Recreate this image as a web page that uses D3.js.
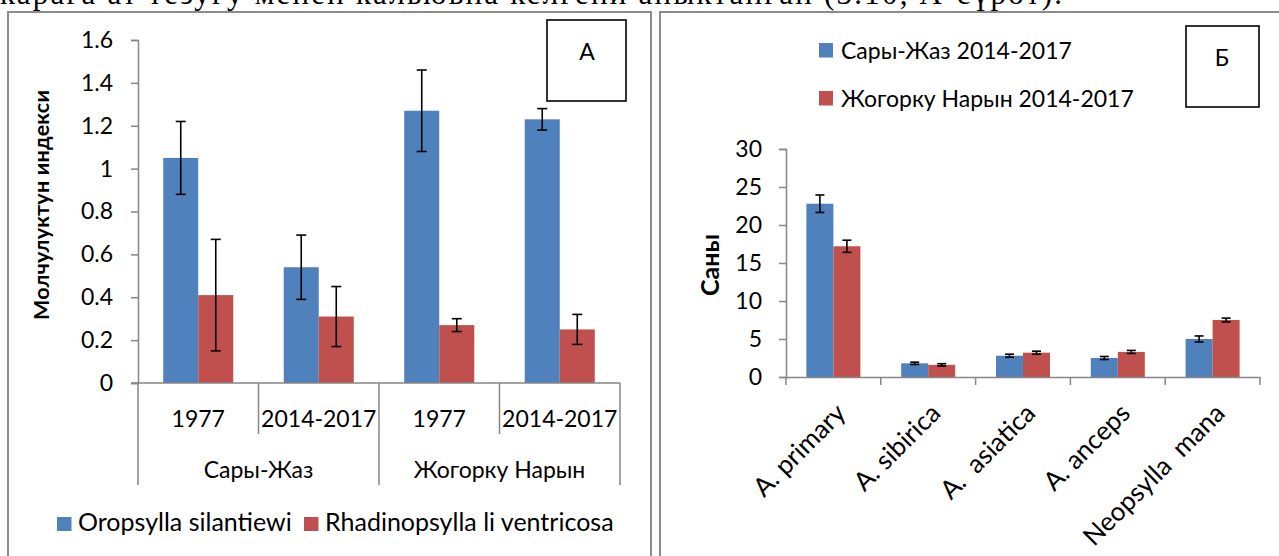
<!DOCTYPE html>
<html>
<head>
<meta charset="utf-8">
<script src="https://cdn.jsdelivr.net/npm/d3@7"></script>
<style>
  body { margin: 0; background: #fff; }
  svg { display: block; }
  text { font-family: Lato, "Open Sans", sans-serif; fill: #000; }
</style>
</head>
<body>
<svg id="chart" width="1279" height="556"></svg>
<script>
// panel A data
var periodsA = ["1977", "2014-2017", "1977", "2014-2017"];
var regionsA = ["Сары-Жаз", "Жогорку Нарын"];
var seriesA = ["Oropsylla silantiewi", "Rhadinopsylla li ventricosa"];
var oropsylla = [1.05, 0.54, 1.27, 1.23];
var oropsyllaErr = [0.17, 0.15, 0.19, 0.05];
var rhadino = [0.41, 0.31, 0.27, 0.25];
var rhadinoErr = [0.26, 0.14, 0.03, 0.07];
var ticksA = [0, 0.2, 0.4, 0.6, 0.8, 1, 1.2, 1.4, 1.6];

// panel Б data
var speciesB = ["A. primary", "A. sibirica", "A.  asiatica", "A. anceps", "Neopsylla  mana"];
var seriesB = ["Сары-Жаз 2014-2017", "Жогорку Нарын 2014-2017"];
var saryJaz = [22.8, 1.8, 2.8, 2.5, 5.0];
var saryJazErr = [1.15, 0.15, 0.2, 0.2, 0.4];
var naryn = [17.2, 1.6, 3.2, 3.3, 7.5];
var narynErr = [0.8, 0.15, 0.2, 0.2, 0.25];
var ticksB = [0, 5, 10, 15, 20, 25, 30];

var colors = ["#4F81BD", "#C0504D"];
var axisColor = "#868686";

var svg = d3.select("#chart");

// cut-off line of body text above the figure
svg.append("text")
  .attr("x", 0).attr("y", 4)
  .attr("textLength", 1062)
  .style("font-family", "'Liberation Serif', 'DejaVu Serif', serif")
  .style("font-size", "31px")
  .text("карага ат тезугу менен кальювна келгени аныктанган (3.10, А-сүрөт).");

// panel frames
svg.append("rect").attr("x", 8).attr("y", 12).attr("width", 643).attr("height", 560)
  .attr("fill", "none").attr("stroke", "#8c8c8c").attr("stroke-width", 2);
svg.append("rect").attr("x", 660).attr("y", 12).attr("width", 640).attr("height", 560)
  .attr("fill", "none").attr("stroke", "#8c8c8c").attr("stroke-width", 2);

function errBar(g, x, y, v, e, cap) {
  g.append("line").attr("x1", x).attr("x2", x).attr("y1", y(v - e)).attr("y2", y(v + e));
  g.append("line").attr("x1", x - cap).attr("x2", x + cap).attr("y1", y(v - e)).attr("y2", y(v - e));
  g.append("line").attr("x1", x - cap).attr("x2", x + cap).attr("y1", y(v + e)).attr("y2", y(v + e));
}

// ---------------- panel A ----------------
(function() {
  var keys = periodsA.map(function(p, i) { return i; });
  var x0 = d3.scaleBand().domain(keys).range([138, 620]);
  var x1 = d3.scaleBand().domain([0, 1]).range([0, x0.bandwidth()]).paddingOuter(0.72);
  var y = d3.scaleLinear().domain([0, 1.6]).range([383, 40]);
  var g = svg.append("g");

  var vals = [oropsylla, rhadino], errs = [oropsyllaErr, rhadinoErr];

  [0, 1].forEach(function(s) {
    g.selectAll(".barA" + s).data(vals[s]).enter().append("rect")
      .attr("x", function(d, i) { return x0(i) + x1(s); })
      .attr("y", function(d) { return y(d); })
      .attr("width", x1.bandwidth())
      .attr("height", function(d) { return y(0) - y(d); })
      .attr("fill", colors[s]);
  });

  var eg = g.append("g").attr("stroke", "#000").attr("stroke-width", 1.6);
  [0, 1].forEach(function(s) {
    vals[s].forEach(function(v, i) {
      errBar(eg, x0(i) + x1(s) + x1.bandwidth() / 2, y, v, errs[s][i], 5);
    });
  });

  // y axis
  var yAxis = g.append("g").attr("transform", "translate(138,0)")
    .call(d3.axisLeft(y).tickValues(ticksA).tickSize(7).tickPadding(18)
      .tickFormat(function(d) { return d3.format("")(d); }));
  yAxis.select(".domain").attr("stroke", axisColor).attr("stroke-width", 1.5);
  yAxis.selectAll(".tick line").attr("stroke", axisColor).attr("stroke-width", 1.5);
  yAxis.selectAll(".tick text").style("font-size", "23px").attr("fill", "#000");

  // x axis with two-level labels
  var ax = g.append("g").attr("stroke", axisColor).attr("stroke-width", 1.5);
  ax.append("line").attr("x1", 131).attr("x2", 620).attr("y1", y(0)).attr("y2", y(0));
  keys.forEach(function(k) {
    var bx = x0(k);
    var deep = (k % 2 === 0);
    ax.append("line").attr("x1", bx).attr("x2", bx).attr("y1", y(0)).attr("y2", deep ? 485 : 434);
  });
  ax.append("line").attr("x1", 620).attr("x2", 620).attr("y1", y(0)).attr("y2", 485);

  g.selectAll(".perA").data(periodsA).enter().append("text")
    .attr("x", function(d, i) { return x0(i) + x0.bandwidth() / 2; })
    .attr("y", 427)
    .attr("text-anchor", "middle")
    .style("font-size", "23px")
    .text(function(d) { return d; });

  g.selectAll(".regA").data(regionsA).enter().append("text")
    .attr("x", function(d, i) { return (x0(i * 2) + x0(i * 2 + 1) + x0.bandwidth()) / 2; })
    .attr("y", 478)
    .attr("text-anchor", "middle")
    .style("font-size", "23px")
    .text(function(d) { return d; });

  // y title
  g.append("text")
    .attr("transform", "translate(48.5,205) rotate(-90)")
    .attr("text-anchor", "middle")
    .attr("textLength", 230)
    .style("font-size", "21.5px").style("font-weight", "bold")
    .text("Молчулуктун индекси");

  // legend
  var lx = [57, 304];
  seriesA.forEach(function(s, i) {
    g.append("rect").attr("x", lx[i]).attr("y", 517).attr("width", 14.5).attr("height", 14).attr("fill", colors[i]);
    g.append("text").attr("x", lx[i] + 21).attr("y", 531).style("font-size", "25px").text(s);
  });

  // label box
  g.append("rect").attr("x", 547).attr("y", 20).attr("width", 79).attr("height", 81)
    .attr("fill", "#fff").attr("stroke", "#000").attr("stroke-width", 1.6);
  g.append("text").attr("x", 587).attr("y", 60).attr("text-anchor", "middle")
    .style("font-size", "23px").text("А");
})();

// ---------------- panel Б ----------------
(function() {
  var x0 = d3.scaleBand().domain(speciesB).range([786, 1260]);
  var x1 = d3.scaleBand().domain([0, 1]).range([0, x0.bandwidth()]).paddingOuter(0.755);
  var y = d3.scaleLinear().domain([0, 30]).range([377, 149]);
  var g = svg.append("g");

  var vals = [saryJaz, naryn], errs = [saryJazErr, narynErr];

  [0, 1].forEach(function(s) {
    g.selectAll(".barB" + s).data(vals[s]).enter().append("rect")
      .attr("x", function(d, i) { return x0(speciesB[i]) + x1(s); })
      .attr("y", function(d) { return y(d); })
      .attr("width", x1.bandwidth())
      .attr("height", function(d) { return y(0) - y(d); })
      .attr("fill", colors[s]);
  });

  var eg = g.append("g").attr("stroke", "#000").attr("stroke-width", 1.6);
  [0, 1].forEach(function(s) {
    vals[s].forEach(function(v, i) {
      errBar(eg, x0(speciesB[i]) + x1(s) + x1.bandwidth() / 2, y, v, errs[s][i], 4.5);
    });
  });

  var yAxis = g.append("g").attr("transform", "translate(786,0)")
    .call(d3.axisLeft(y).tickValues(ticksB).tickSize(7).tickPadding(17));
  yAxis.select(".domain").attr("stroke", axisColor).attr("stroke-width", 1.5);
  yAxis.selectAll(".tick line").attr("stroke", axisColor).attr("stroke-width", 1.5);
  yAxis.selectAll(".tick text").style("font-size", "23px").attr("fill", "#000");

  var xAxis = g.append("g").attr("transform", "translate(0," + y(0) + ")")
    .call(d3.axisBottom(x0).tickSize(0).tickFormat(""));
  xAxis.select(".domain").attr("stroke", axisColor).attr("stroke-width", 1.5);
  var ax = g.append("g").attr("stroke", axisColor).attr("stroke-width", 1.5);
  speciesB.forEach(function(s) {
    ax.append("line").attr("x1", x0(s)).attr("x2", x0(s)).attr("y1", y(0)).attr("y2", y(0) + 8);
  });
  ax.append("line").attr("x1", 1260).attr("x2", 1260).attr("y1", y(0)).attr("y2", y(0) + 8);

  g.selectAll(".spB").data(speciesB).enter().append("text")
    .attr("transform", function(d) {
      return "translate(" + (x0(d) + x0.bandwidth() / 2 + 1) + "," + (y(0) + 25) + ") rotate(-45)";
    })
    .attr("text-anchor", "end")
    .attr("dy", "0.7em")
    .style("font-size", "26px")
    .style("white-space", "pre")
    .text(function(d) { return d; });

  g.append("text")
    .attr("transform", "translate(719,265) rotate(-90)")
    .attr("text-anchor", "middle")
    .style("font-size", "25px").style("font-weight", "bold")
    .text("Саны");

  seriesB.forEach(function(s, i) {
    g.append("rect").attr("x", 819).attr("y", 43 + i * 48).attr("width", 14).attr("height", 14.5).attr("fill", colors[i]);
    g.append("text").attr("x", 841).attr("y", 58.5 + i * 48).style("font-size", "23px").text(s);
  });

  g.append("rect").attr("x", 1186).attr("y", 26).attr("width", 73).attr("height", 81)
    .attr("fill", "#fff").attr("stroke", "#000").attr("stroke-width", 1.6);
  g.append("text").attr("x", 1222).attr("y", 66).attr("text-anchor", "middle")
    .style("font-size", "23px").text("Б");
})();
</script>
</body>
</html>
